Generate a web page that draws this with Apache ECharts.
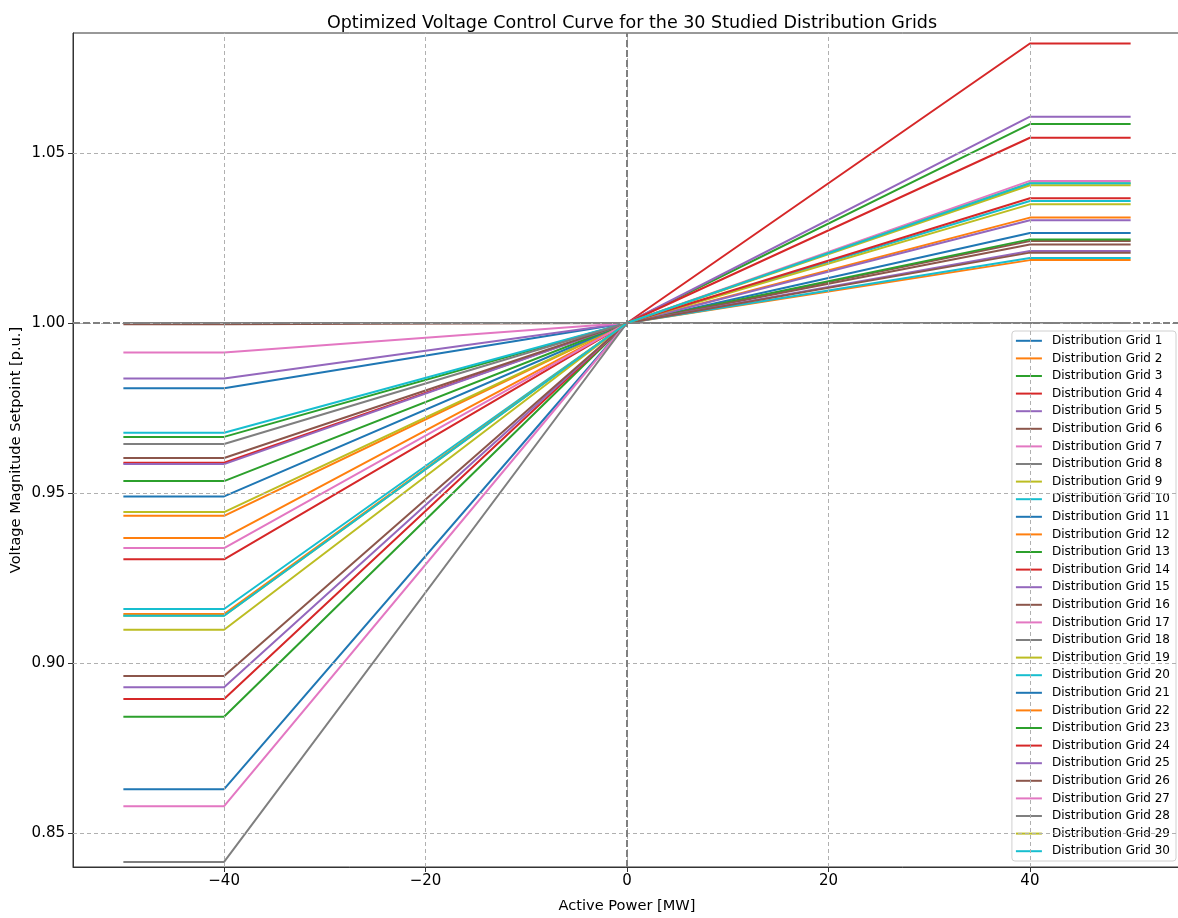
<!DOCTYPE html>
<html>
<head>
<meta charset="utf-8">
<title>Optimized Voltage Control Curve</title>
<script src="https://cdn.jsdelivr.net/npm/echarts@6/dist/echarts.min.js"></script>
<style>
  html, body { margin: 0; padding: 0; background: #ffffff; }
  #chart { width: 1178px; height: 918px; }
</style>
</head>
<body>
<div id="chart"></div>
<script>
// Breakpoints of the piecewise-linear control curve [MW]
const powerPoints = [-50, -40, 0, 40, 50];
const nominalVoltage = 1.0;

// Setpoint [p.u.] held for absorbed power (left plateau) and injected power (right plateau), grids 1..30
const lowSetpoint = [
  0.9808, 0.9433, 0.9665, 0.9589, 0.9837, 0.9996, 0.9913, 1.0000, 0.9444, 0.9677,
  0.9490, 0.9368, 0.9535, 0.9305, 0.9585, 0.9603, 0.9338, 0.9644, 0.9098, 0.9159,
  0.8629, 0.9144, 0.8842, 0.8894, 0.8929, 0.8962, 0.8579, 0.8415, 0.9139, 0.9139
];
const highSetpoint = [
  1.0265, 1.0310, 1.0585, 1.0822, 1.0607, 1.0241, 1.0418, 1.0000, 1.0405, 1.0359,
  1.0000, 1.0185, 1.0246, 1.0545, 1.0302, 1.0231, 1.0000, 1.0000, 1.0349, 1.0191,
  1.0000, 1.0000, 1.0000, 1.0367, 1.0212, 1.0207, 1.0000, 1.0000, 1.0411, 1.0411
];

const gridNames = lowSetpoint.map((_, i) => 'Distribution Grid ' + (i + 1));

const xTicks = [-40, -20, 0, 20, 40];
const yTicks = [0.85, 0.90, 0.95, 1.00, 1.05];

const palette = ['#1f77b4', '#ff7f0e', '#2ca02c', '#d62728', '#9467bd',
                 '#8c564b', '#e377c2', '#7f7f7f', '#bcbd22', '#17becf'];

const FONT = 'DejaVu Sans';

function curve(i) {
  const lo = lowSetpoint[i], hi = highSetpoint[i];
  const vals = [lo, lo, nominalVoltage, hi, hi];
  return powerPoints.map((p, k) => [p, vals[k]]);
}

const curveSeries = gridNames.map((name, i) => ({
  name: name,
  type: 'line',
  data: curve(i),
  showSymbol: false,
  symbol: 'none',
  color: palette[i % palette.length],
  lineStyle: { width: 2, color: palette[i % palette.length] },
  emphasis: { disabled: true },
  z: 3
}));

// background grid lines at the tick positions
const gridSeries = {
  name: '__grid',
  type: 'line',
  data: [],
  z: 1,
  silent: true,
  markLine: {
    silent: true,
    symbol: 'none',
    label: { show: false },
    lineStyle: { color: '#b0b0b0', width: 1, type: [4, 3] },
    data: xTicks.map(v => ({ xAxis: v })).concat(yTicks.map(v => ({ yAxis: v })))
  }
};

// reference lines through the nominal point
const refSeries = {
  name: '__ref',
  type: 'line',
  data: [],
  z: 6,
  silent: true,
  markLine: {
    silent: true,
    symbol: 'none',
    label: { show: false },
    lineStyle: { color: '#808080', width: 2, type: [7, 3] },
    data: [{ xAxis: 0 }, { yAxis: nominalVoltage }]
  }
};

const chart = echarts.init(document.getElementById('chart'), null, { renderer: 'canvas' });

chart.setOption({
  animation: false,
  backgroundColor: '#ffffff',
  textStyle: { fontFamily: FONT },
  title: {
    text: 'Optimized Voltage Control Curve for the 30 Studied Distribution Grids',
    left: 627,
    top: 9,
    textAlign: 'center',
    textStyle: { fontFamily: FONT, fontSize: 17.5, fontWeight: 'normal', color: '#000' }
  },
  grid: {
    left: 73, right: -3, top: 33, bottom: 51,
    containLabel: false,
    outerBoundsMode: 'none',
    show: true, borderColor: '#333', borderWidth: 1, backgroundColor: 'transparent'
  },
  xAxis: {
    type: 'value',
    min: -55, max: 55,
    name: 'Active Power [MW]',
    nameLocation: 'middle',
    nameGap: 32,
    nameMoveOverlap: false,
    nameTextStyle: { fontFamily: FONT, fontSize: 14.6, color: '#000' },
    axisLine: { show: true, onZero: false, lineStyle: { color: '#333', width: 1 } },
    axisTick: { show: true, length: 5, inside: false, customValues: xTicks, lineStyle: { color: '#333' } },
    axisLabel: {
      customValues: xTicks,
      fontFamily: FONT, fontSize: 15, color: '#000', margin: 7,
      formatter: v => (v < 0 ? '\u2212' + Math.abs(v) : String(v))
    },
    splitLine: { show: false }
  },
  yAxis: {
    type: 'value',
    min: 0.84, max: 1.0853,
    name: 'Voltage Magnitude Setpoint [p.u.]',
    nameLocation: 'middle',
    nameGap: 49,
    nameMoveOverlap: false,
    nameTextStyle: { fontFamily: FONT, fontSize: 14.6, color: '#000' },
    axisLine: { show: true, onZero: false, lineStyle: { color: '#333', width: 1 } },
    axisTick: { show: true, length: 5, inside: false, customValues: yTicks, lineStyle: { color: '#333' } },
    axisLabel: {
      customValues: yTicks,
      fontFamily: FONT, fontSize: 15, color: '#000', margin: 8,
      formatter: v => v.toFixed(2)
    },
    splitLine: { show: false }
  },
  legend: {
    data: gridNames,
    orient: 'vertical',
    right: 2,
    top: 331,
    icon: 'rect',
    itemWidth: 26,
    itemHeight: 2,
    itemGap: 0,
    padding: [1, 6, 1, 4],
    backgroundColor: 'rgba(255,255,255,0.85)',
    borderColor: '#d0d0d0',
    borderWidth: 1,
    borderRadius: 3,
    selectedMode: false,
    textStyle: { fontFamily: FONT, fontSize: 12, color: '#000', lineHeight: 17.6, padding: [0, 0, 0, 5] }
  },
  series: [gridSeries].concat(curveSeries, [refSeries])
});
</script>
</body>
</html>
